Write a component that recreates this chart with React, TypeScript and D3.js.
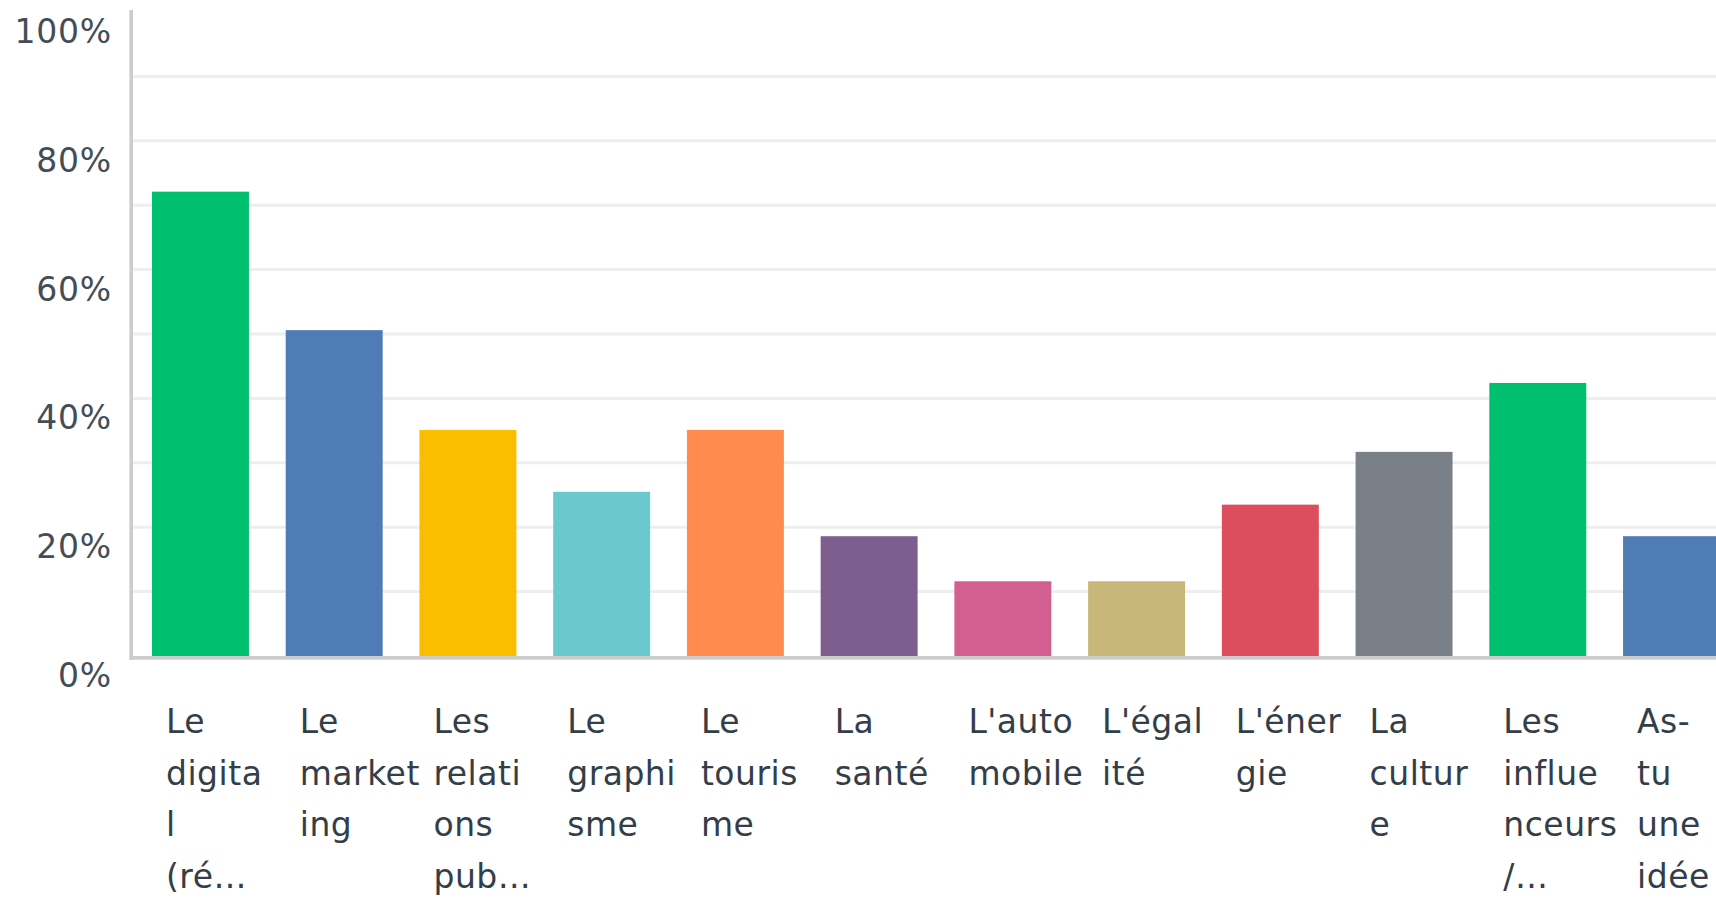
import React, { useRef, useEffect } from "react";
import * as d3 from "d3";

const width = 1716;
const height = 900;

const categories = [
  "Le digital (ré…",
  "Le marketing",
  "Les relations pub…",
  "Le graphisme",
  "Le tourisme",
  "La santé",
  "L'automobile",
  "L'égalité",
  "L'énergie",
  "La culture",
  "Les influenceurs /…",
  "As-tu une idée",
];

// wrapped the way the picture wraps them
const labelLines = [
  ["Le", "digita", "l", "(ré…"],
  ["Le", "market", "ing"],
  ["Les", "relati", "ons", "pub…"],
  ["Le", "graphi", "sme"],
  ["Le", "touris", "me"],
  ["La", "santé"],
  ["L'auto", "mobile"],
  ["L'égal", "ité"],
  ["L'éner", "gie"],
  ["La", "cultur", "e"],
  ["Les", "influe", "nceurs", "/…"],
  ["As-", "tu", "une", "idée"],
];

const values = [0.721, 0.506, 0.351, 0.255, 0.351, 0.186, 0.116, 0.116, 0.235, 0.317, 0.424, 0.186];

const colors = [
  "#00bf6f", "#507cb6", "#f9be00", "#6bc8cd", "#ff8b4f", "#7d5e8f",
  "#d25f90", "#c7b879", "#dc4e5e", "#7a8087", "#00bf6f", "#507cb6",
];

const yTicks = [0, 0.2, 0.4, 0.6, 0.8, 1];
const gridTicks = [0.1, 0.2, 0.3, 0.4, 0.5, 0.6, 0.7, 0.8, 0.9];

export default function App() {
  const ref = useRef<SVGSVGElement | null>(null);

  useEffect(() => {
    const svg = d3.select(ref.current);
    svg.selectAll("*").remove();

    const x = d3
      .scaleBand<string>()
      .domain(categories)
      .range([133, 1739])
      .paddingInner(0.275)
      .paddingOuter(0.142);

    const y = d3.scaleLinear().domain([0, 1]).range([656, 12]);

    // gridlines
    svg
      .append("g")
      .selectAll("line")
      .data(gridTicks)
      .enter()
      .append("line")
      .attr("x1", 133)
      .attr("x2", width)
      .attr("y1", (d) => y(d))
      .attr("y2", (d) => y(d))
      .attr("stroke", "#eeeeee")
      .attr("stroke-width", 3);

    // bars
    svg
      .append("g")
      .selectAll("rect")
      .data(values)
      .enter()
      .append("rect")
      .attr("x", (_, i) => x(categories[i])!)
      .attr("y", (d) => y(d))
      .attr("width", x.bandwidth())
      .attr("height", (d) => y(0) - y(d))
      .attr("fill", (_, i) => colors[i % colors.length]);

    // axes lines
    svg
      .append("line")
      .attr("x1", 131.2)
      .attr("x2", 131.2)
      .attr("y1", 10)
      .attr("y2", 660)
      .attr("stroke", "#cccccc")
      .attr("stroke-width", 3.6);

    svg
      .append("line")
      .attr("x1", 129.5)
      .attr("x2", width)
      .attr("y1", y(0) + 1.9)
      .attr("y2", y(0) + 1.9)
      .attr("stroke", "#cccccc")
      .attr("stroke-width", 3.8);

    // y tick labels
    svg
      .append("g")
      .selectAll("text")
      .data(yTicks)
      .enter()
      .append("text")
      .attr("x", 112)
      .attr("y", (d) => y(d) + 31)
      .attr("text-anchor", "end")
      .attr("font-family", "DejaVu Sans, sans-serif")
      .attr("font-size", 33)
      .attr("letter-spacing", 0.8)
      .attr("fill", "#434d57")
      .text((d) => d3.format(".0%")(d));

    // x labels
    const lab = svg
      .append("g")
      .selectAll("text")
      .data(labelLines)
      .enter()
      .append("text")
      .attr("font-family", "DejaVu Sans, sans-serif")
      .attr("font-size", 33)
      .attr("letter-spacing", 0.5)
      .attr("fill", "#333e48");

    lab
      .selectAll("tspan")
      .data((d, i) => d.map((t) => ({ t, i })))
      .enter()
      .append("tspan")
      .attr("x", (d) => x(categories[d.i])! + 14)
      .attr("y", (_, j) => 733 + j * 51.5)
      .text((d) => d.t);
  }, []);

  return (
    <svg
      ref={ref}
      width={width}
      height={height}
      style={{ position: "absolute", left: 0, top: 0, background: "#fff" }}
    />
  );
}
